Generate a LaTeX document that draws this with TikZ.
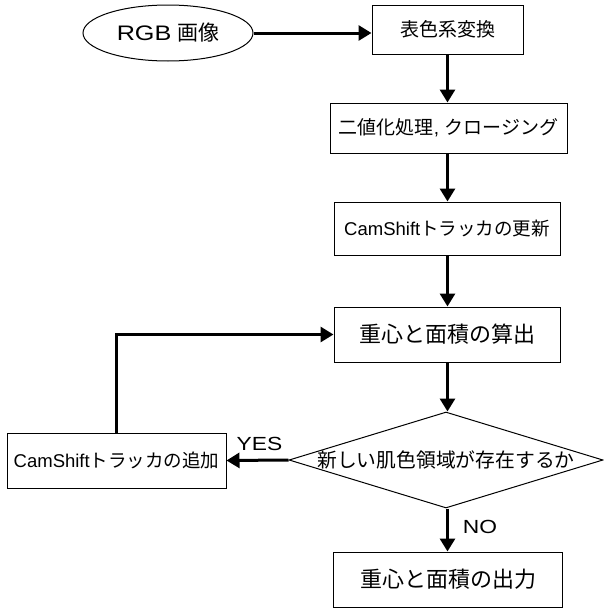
\documentclass[tikz,border=0pt]{standalone}
\usepackage{fontspec}
\setmainfont{Liberation Sans}
\newfontfamily\jp{Noto Sans CJK JP}
\newfontfamily\wide[FakeStretch=1.2]{Liberation Sans}
\usetikzlibrary{shapes.geometric,arrows.meta}
\begin{document}
\begin{tikzpicture}[x=1pt,y=-1pt,
  box/.style={draw=black,line width=1pt,rectangle,inner sep=0pt,align=center},
  arr/.style={line width=3pt,-{Triangle[length=13pt,width=15pt]}},
  fs/.style={font=\fontsize{#1}{#1}\selectfont}]
\useasboundingbox[fill=white] (0,0) rectangle (603,608);
\node[ellipse,draw=black,line width=1pt,inner sep=0pt,minimum width=170pt,minimum height=56pt,fs=21] (e0) at (168,33) {{\wide RGB} {\jp 画像}};
\node[box,minimum width=151pt,minimum height=49pt,fs=19] (b1) at (447.5,29.5) {\jp 表色系変換};
\node[box,minimum width=237pt,minimum height=50pt,fs=19] (b2) at (448.5,128) {{\jp 二値化処理}, {\jp クロージング}};
\node[box,minimum width=226pt,minimum height=53pt,fs=18.5] (b3) at (447,228.5) {CamShift{\jp トラッカの更新}};
\node[box,minimum width=226pt,minimum height=55pt,fs=22] (b4) at (447,334.5) {\jp 重心と面積の算出};
\node[diamond,draw=black,line width=1pt,inner sep=0pt,minimum width=314pt,minimum height=96pt] (d) at (446,460) {};
\node[fs=19.8,inner sep=0pt] (dt) at (d.center) {\jp 新しい肌色領域が存在するか};
\node[box,minimum width=219pt,minimum height=55pt,fs=18.5] (b5) at (116.5,460.5) {CamShift{\jp トラッカの追加}};
\node[box,minimum width=229pt,minimum height=55pt,fs=22] (b6) at (448,579.5) {\jp 重心と面積の出力};
\node[fs=19,inner sep=0pt] (yes) at (259.5,443.5) {\wide YES};
\node[fs=19,inner sep=0pt] (no) at (480,527) {\wide NO};
\draw[arr] (e0.east) -- (e0.east -| b1.west);
\draw[arr] (b1.south) -- (b1.south |- b2.north);
\draw[arr] (b2.south -| b1.south) -- (b1.south |- b3.north);
\draw[arr] (b3.south -| b1.south) -- (b1.south |- b4.north);
\draw[arr] (b4.south -| b1.south) -- (b1.south |- d.north);
\draw[arr] (d.south -| b1.south) -- (b1.south |- b6.north);
\draw[arr] (d.west) -- (b5.east);
\draw[arr] (b5.north) |- (b4.west);
\end{tikzpicture}
\end{document}
